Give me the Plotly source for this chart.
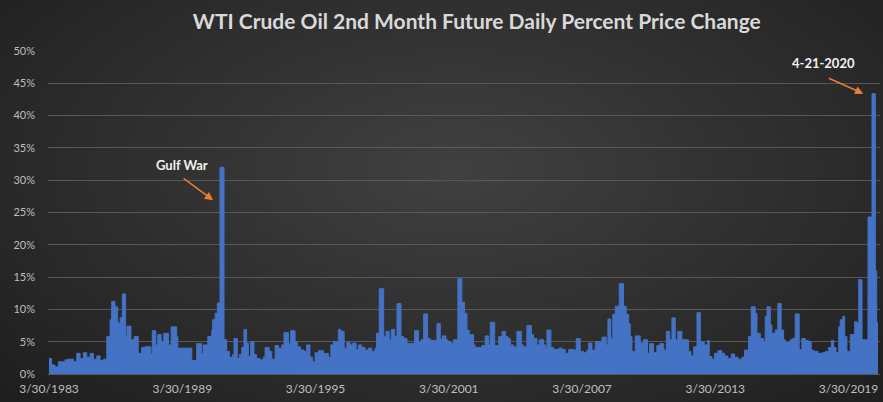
import pandas as pd
import plotly.graph_objects as go

# step data: start of each level (decimal year) and % change
start_years = [
    1983.24, 1983.36, 1983.51, 1983.66, 1983.96, 1984.11, 1984.34, 1984.49, 1984.64, 1984.79,
    1984.94, 1985.09, 1985.24, 1985.39, 1985.54, 1985.69, 1985.84, 1985.99, 1986.06, 1986.21,
    1986.33, 1986.44, 1986.54, 1986.69, 1986.75, 1986.93, 1987.08, 1987.26, 1987.41, 1987.56,
    1987.83, 1987.89, 1988.05, 1988.14, 1988.29, 1988.41, 1988.62, 1988.74, 1988.99, 1989.04,
    1989.67, 1989.89, 1990.12, 1990.19, 1990.39, 1990.57, 1990.61, 1990.72, 1990.82, 1990.94,
    1991.12, 1991.24, 1991.36, 1991.51, 1991.57, 1991.72, 1991.81, 1991.92, 1992.02, 1992.14,
    1992.22, 1992.32, 1992.47, 1992.59, 1992.74, 1992.89, 1992.97, 1993.16, 1993.27, 1993.42,
    1993.57, 1993.72, 1993.82, 1994.02, 1994.12, 1994.32, 1994.42, 1994.57, 1994.72, 1994.84,
    1994.99, 1995.11, 1995.22, 1995.37, 1995.60, 1995.82, 1995.93, 1996.05, 1996.27, 1996.38,
    1996.53, 1996.65, 1996.80, 1996.92, 1997.07, 1997.17, 1997.32, 1997.47, 1997.62, 1997.77,
    1997.92, 1997.99, 1998.11, 1998.31, 1998.41, 1998.56, 1998.65, 1998.80, 1998.91, 1999.09,
    1999.21, 1999.36, 1999.66, 1999.70, 1999.88, 2000.00, 2000.11, 2000.29, 2000.41, 2000.71,
    2000.86, 2000.96, 2001.11, 2001.20, 2001.35, 2001.46, 2001.65, 2001.83, 2001.95, 2002.06,
    2002.16, 2002.36, 2002.43, 2002.73, 2002.88, 2003.04, 2003.11, 2003.31, 2003.49, 2003.64,
    2003.79, 2003.91, 2004.01, 2004.16, 2004.31, 2004.51, 2004.61, 2004.76, 2004.96, 2005.06,
    2005.21, 2005.32, 2005.51, 2005.59, 2005.66, 2005.84, 2005.96, 2006.19, 2006.34, 2006.49,
    2006.64, 2006.86, 2006.98, 2007.16, 2007.31, 2007.46, 2007.54, 2007.69, 2007.84, 2008.14,
    2008.33, 2008.41, 2008.54, 2008.63, 2008.74, 2008.92, 2009.11, 2009.23, 2009.34, 2009.41,
    2009.49, 2009.64, 2009.86, 2010.01, 2010.19, 2010.28, 2010.46, 2010.61, 2010.74, 2010.92,
    2011.04, 2011.19, 2011.29, 2011.44, 2011.55, 2011.74, 2012.04, 2012.15, 2012.27, 2012.42,
    2012.57, 2012.75, 2012.90, 2012.97, 2013.09, 2013.21, 2013.36, 2013.54, 2013.66, 2013.81,
    2013.96, 2014.11, 2014.26, 2014.44, 2014.56, 2014.74, 2014.86, 2015.04, 2015.12, 2015.27,
    2015.42, 2015.49, 2015.57, 2015.72, 2015.79, 2015.94, 2016.06, 2016.21, 2016.32, 2016.39,
    2016.62, 2016.72, 2016.84, 2017.02, 2017.14, 2017.29, 2017.44, 2017.56, 2017.67, 2017.87,
    2018.05, 2018.20, 2018.35, 2018.47, 2018.57, 2018.68, 2018.80, 2018.87, 2018.98, 2019.07,
    2019.17, 2019.32, 2019.52, 2019.62, 2019.70, 2019.85, 2020.12, 2020.30, 2020.45, 2020.51,
]
pct_change = [
    2.4, 1.4, 1.1, 1.9, 2.2, 2.3, 1.9, 3.2, 2.4, 3.3,
    2.6, 3.2, 2.3, 2.8, 2.1, 2.3, 5.8, 8.4, 11.2, 10.4,
    7.9, 8.7, 12.4, 5.8, 7.4, 5.3, 5.8, 3.2, 4.1, 4.2,
    3.1, 6.7, 4.5, 6.1, 5.0, 6.3, 4.5, 7.3, 5.8, 4.0,
    2.1, 4.7, 3.2, 4.5, 5.8, 6.8, 8.4, 9.4, 11.0, 32.0,
    5.3, 3.5, 2.6, 3.0, 5.5, 2.4, 3.0, 4.1, 6.9, 4.8,
    2.7, 5.0, 3.0, 2.4, 2.2, 2.6, 4.1, 3.5, 2.3, 4.4,
    4.0, 4.5, 6.4, 4.7, 6.7, 5.0, 4.2, 3.7, 3.5, 4.5,
    2.6, 1.9, 3.3, 3.6, 3.2, 2.6, 4.5, 5.0, 6.9, 6.6,
    4.0, 4.9, 4.5, 4.8, 3.7, 4.5, 4.1, 3.7, 4.0, 3.5,
    4.0, 6.3, 13.2, 5.8, 6.6, 5.3, 6.9, 5.8, 10.9, 5.8,
    5.5, 4.7, 4.1, 6.7, 5.0, 5.3, 9.3, 5.5, 5.2, 7.8,
    5.4, 5.9, 5.3, 5.0, 4.7, 5.3, 14.8, 11.1, 9.4, 6.8,
    6.1, 4.5, 4.1, 4.4, 5.9, 4.5, 8.0, 4.4, 5.8, 6.6,
    5.8, 5.5, 4.5, 4.2, 6.6, 4.5, 4.2, 7.5, 6.1, 5.5,
    4.5, 5.3, 4.5, 4.0, 6.8, 4.1, 3.8, 4.0, 3.8, 3.2,
    3.8, 3.7, 5.5, 3.5, 3.3, 3.7, 4.8, 3.7, 5.0, 5.7,
    4.5, 8.5, 5.5, 9.2, 10.5, 14.0, 10.5, 9.2, 7.8, 5.8,
    3.5, 5.9, 4.8, 5.3, 3.2, 4.7, 3.3, 4.4, 4.7, 3.7,
    6.6, 5.3, 8.7, 5.3, 6.6, 5.3, 3.5, 2.8, 4.2, 9.5,
    5.0, 4.5, 5.2, 2.7, 2.3, 3.2, 3.6, 3.2, 2.8, 2.4,
    3.1, 2.6, 2.3, 2.6, 3.7, 5.8, 10.4, 9.4, 6.3, 5.5,
    5.0, 8.9, 10.4, 7.6, 6.3, 6.8, 10.9, 6.8, 5.3, 4.9,
    5.3, 5.5, 9.3, 3.8, 5.5, 5.2, 5.0, 3.7, 3.5, 3.2,
    3.3, 3.5, 4.1, 5.2, 4.1, 3.3, 7.3, 8.4, 8.9, 5.8,
    3.5, 6.1, 8.1, 7.9, 14.6, 5.3, 24.3, 43.4, 16.0, 8.0,
]
end_year = 2020.57

tick_years = [1983, 1989, 1995, 2001, 2007, 2013, 2019]

BAR = "#4472C4"
ORANGE = "#ED7D31"
TEXT = "#BFBFBF"


def to_date(y):
    yr = int(y)
    return pd.Timestamp(year=yr, month=1, day=1) + pd.Timedelta(days=(y - yr) * 365.25)


dates = [to_date(y) for y in start_years] + [to_date(end_year)]
values = pct_change + [pct_change[-1]]

fig = go.Figure()
fig.add_trace(go.Scatter(
    x=dates,
    y=values,
    mode="lines",
    line=dict(shape="hv", width=1, color=BAR),
    fill="tozeroy",
    fillcolor=BAR,
    hoverinfo="skip",
))

# radial-ish background glow (plot area spans px 48..880, 51..374)
shapes = []
cx, cy = 455, 170
n_rings = 36
for i in range(n_rings):
    s = 1 - i / n_rings
    rx, ry = 660 * s, 350 * s
    shapes.append(dict(
        type="circle", xref="paper", yref="paper", layer="below",
        x0=(cx - rx - 48) / 832, x1=(cx + rx - 48) / 832,
        y0=(374 - (cy + ry)) / 323, y1=(374 - (cy - ry)) / 323,
        fillcolor="rgba(255,255,255,0.0075)", line=dict(width=0),
    ))

fig.update_layout(
    width=883, height=402,
    margin=dict(l=48, r=3, t=51, b=28),
    paper_bgcolor="#1c1c1c",
    plot_bgcolor="rgba(0,0,0,0)",
    font=dict(family="Lato", color=TEXT),
    showlegend=False,
    shapes=shapes,
    title=dict(
        text="<b>WTI Crude Oil 2nd Month Future Daily Percent Price Change</b>",
        x=0.54, xanchor="center", y=0.945, yanchor="middle",
        font=dict(family="Lato", size=21, color="#D9D9D9"),
    ),
    xaxis=dict(
        type="date",
        range=[to_date(1983.195), to_date(2020.66)],
        tickvals=[pd.Timestamp(year=y, month=3, day=30) for y in tick_years],
        ticktext=[f"3/30/{y}" for y in tick_years],
        tickfont=dict(size=12, color=TEXT),
        showgrid=False, zeroline=False,
        showline=True, linecolor="#5a5a5a", linewidth=1,
        ticks="", ticklabelstandoff=4,
    ),
    yaxis=dict(
        range=[0, 50], dtick=5, ticksuffix="%",
        tickfont=dict(size=11, color=TEXT),
        gridcolor="#585858", gridwidth=1,
        zeroline=False, showline=False,
        ticks="", ticklabelstandoff=12,
    ),
)

# annotations
fig.add_annotation(x=to_date(1989.23), y=32.3, text="<b>Gulf War</b>", showarrow=False,
                   font=dict(family="Lato", size=13, color="#F2F2F2"))
fig.add_annotation(x=to_date(1990.63), y=26.9, text="", showarrow=True,
                   ax=-31, ay=-23, arrowhead=2, arrowsize=1.1, arrowwidth=1.5,
                   arrowcolor=ORANGE, standoff=0)
fig.add_annotation(x=to_date(2018.11), y=48.1, text="<b>4-21-2020</b>", showarrow=False,
                   font=dict(family="Lato", size=13, color="#F2F2F2"))
fig.add_annotation(x=to_date(2019.91), y=43.4, text="", showarrow=True,
                   ax=-36, ay=-16, arrowhead=2, arrowsize=1.1, arrowwidth=1.5,
                   arrowcolor=ORANGE, standoff=0)

fig.write_html("out.html", config={"displayModeBar": False},
               post_script="document.body.style.margin='0';")
